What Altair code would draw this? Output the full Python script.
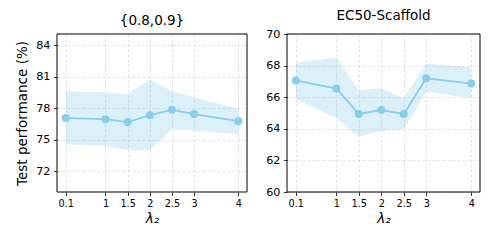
import altair as alt
import pandas as pd

lam = [0.1, 1, 1.5, 2, 2.5, 3, 4]

left_mean = [77.04, 76.94, 76.66, 77.32, 77.83, 77.42, 76.75]
left_hi = [79.6, 79.47, 79.32, 80.71, 79.6, 79.03, 77.96]
left_lo = [74.54, 74.38, 73.97, 73.97, 75.99, 75.87, 75.49]

right_mean = [67.06, 66.55, 64.94, 65.19, 64.94, 67.2, 66.86]
right_hi = [68.2, 68.52, 66.44, 66.57, 65.91, 68.14, 67.88]
right_lo = [65.87, 64.66, 63.5, 63.86, 63.98, 66.36, 65.93]

left_yticks = [72, 75, 78, 81, 84]
right_yticks = [60, 62, 64, 66, 68, 70]

COLOR = "#87CEEB"


def panel(title, mean, hi, lo, ydom, yticks, ytitle, w, h):
    df = pd.DataFrame({"lam": lam, "mean": mean, "hi": hi, "lo": lo})
    xs = alt.Scale(domain=[-0.095, 4.195], nice=False, zero=False)
    ys = alt.Scale(domain=ydom, nice=False, zero=False)
    xa = alt.Axis(values=lam, format="~g", title="λ₂", labelFontSize=9.7, titleFontSize=13.5,
                  titleFontStyle="italic", labelFlush=False, labelOverlap=False, tickCount=50,
                  labelPadding=3, titlePadding=3)
    ya = alt.Axis(values=yticks, format="d", title=ytitle, labelFontSize=11.2, labelOverlap=False,
                  tickCount=50, labelPadding=3.5, titleFontSize=13.5, titlePadding=6)
    x = alt.X("lam:Q", scale=xs, axis=xa)
    base = alt.Chart(df)
    band = base.mark_area(color=COLOR, opacity=0.3, line=False).encode(
        x=x,
        y=alt.Y("lo:Q", scale=ys, axis=ya),
        y2="hi:Q",
    )
    line = base.mark_line(color=COLOR, strokeWidth=1.8).encode(x=x, y=alt.Y("mean:Q", scale=ys, axis=ya))
    pts = base.mark_circle(color=COLOR, size=64, opacity=1).encode(x=x, y=alt.Y("mean:Q", scale=ys, axis=ya))
    frame = alt.Chart(pd.DataFrame({"k": [0]})).mark_rect(
        fill=None, stroke="black", strokeWidth=1
    ).encode(x=alt.value(0), x2=alt.value(w), y=alt.value(0), y2=alt.value(h))
    return (band + line + pts + frame).properties(
        width=w, height=h,
        title=alt.Title(title, fontSize=13.5, fontWeight="normal", offset=6),
    )


left = panel("{0.8,0.9}", left_mean, left_hi, left_lo, [70, 85.05], left_yticks,
             "Test performance (%)", 190, 158)
right = panel("EC50-Scaffold", right_mean, right_hi, right_lo, [60, 70], right_yticks, None, 193, 158)

chart = alt.hconcat(left, right, spacing=17).configure(
    font="DejaVu Sans", padding={"left": 7, "top": 0, "right": 0, "bottom": 0}
).configure_view(
    stroke=None
).configure_axis(
    grid=True, gridColor="#bbbbbb", gridDash=[3, 2], gridWidth=0.6, gridOpacity=0.7,
    domain=False, tickColor="black", tickSize=3.5, tickWidth=0.8, labelColor="black",
    titleColor="black", titleFontWeight="normal",
    labelFont="DejaVu Sans", titleFont="DejaVu Sans",
).configure_title(font="DejaVu Sans", color="black")

chart.save("out.html", embed_options={"renderer": "svg", "actions": False})
